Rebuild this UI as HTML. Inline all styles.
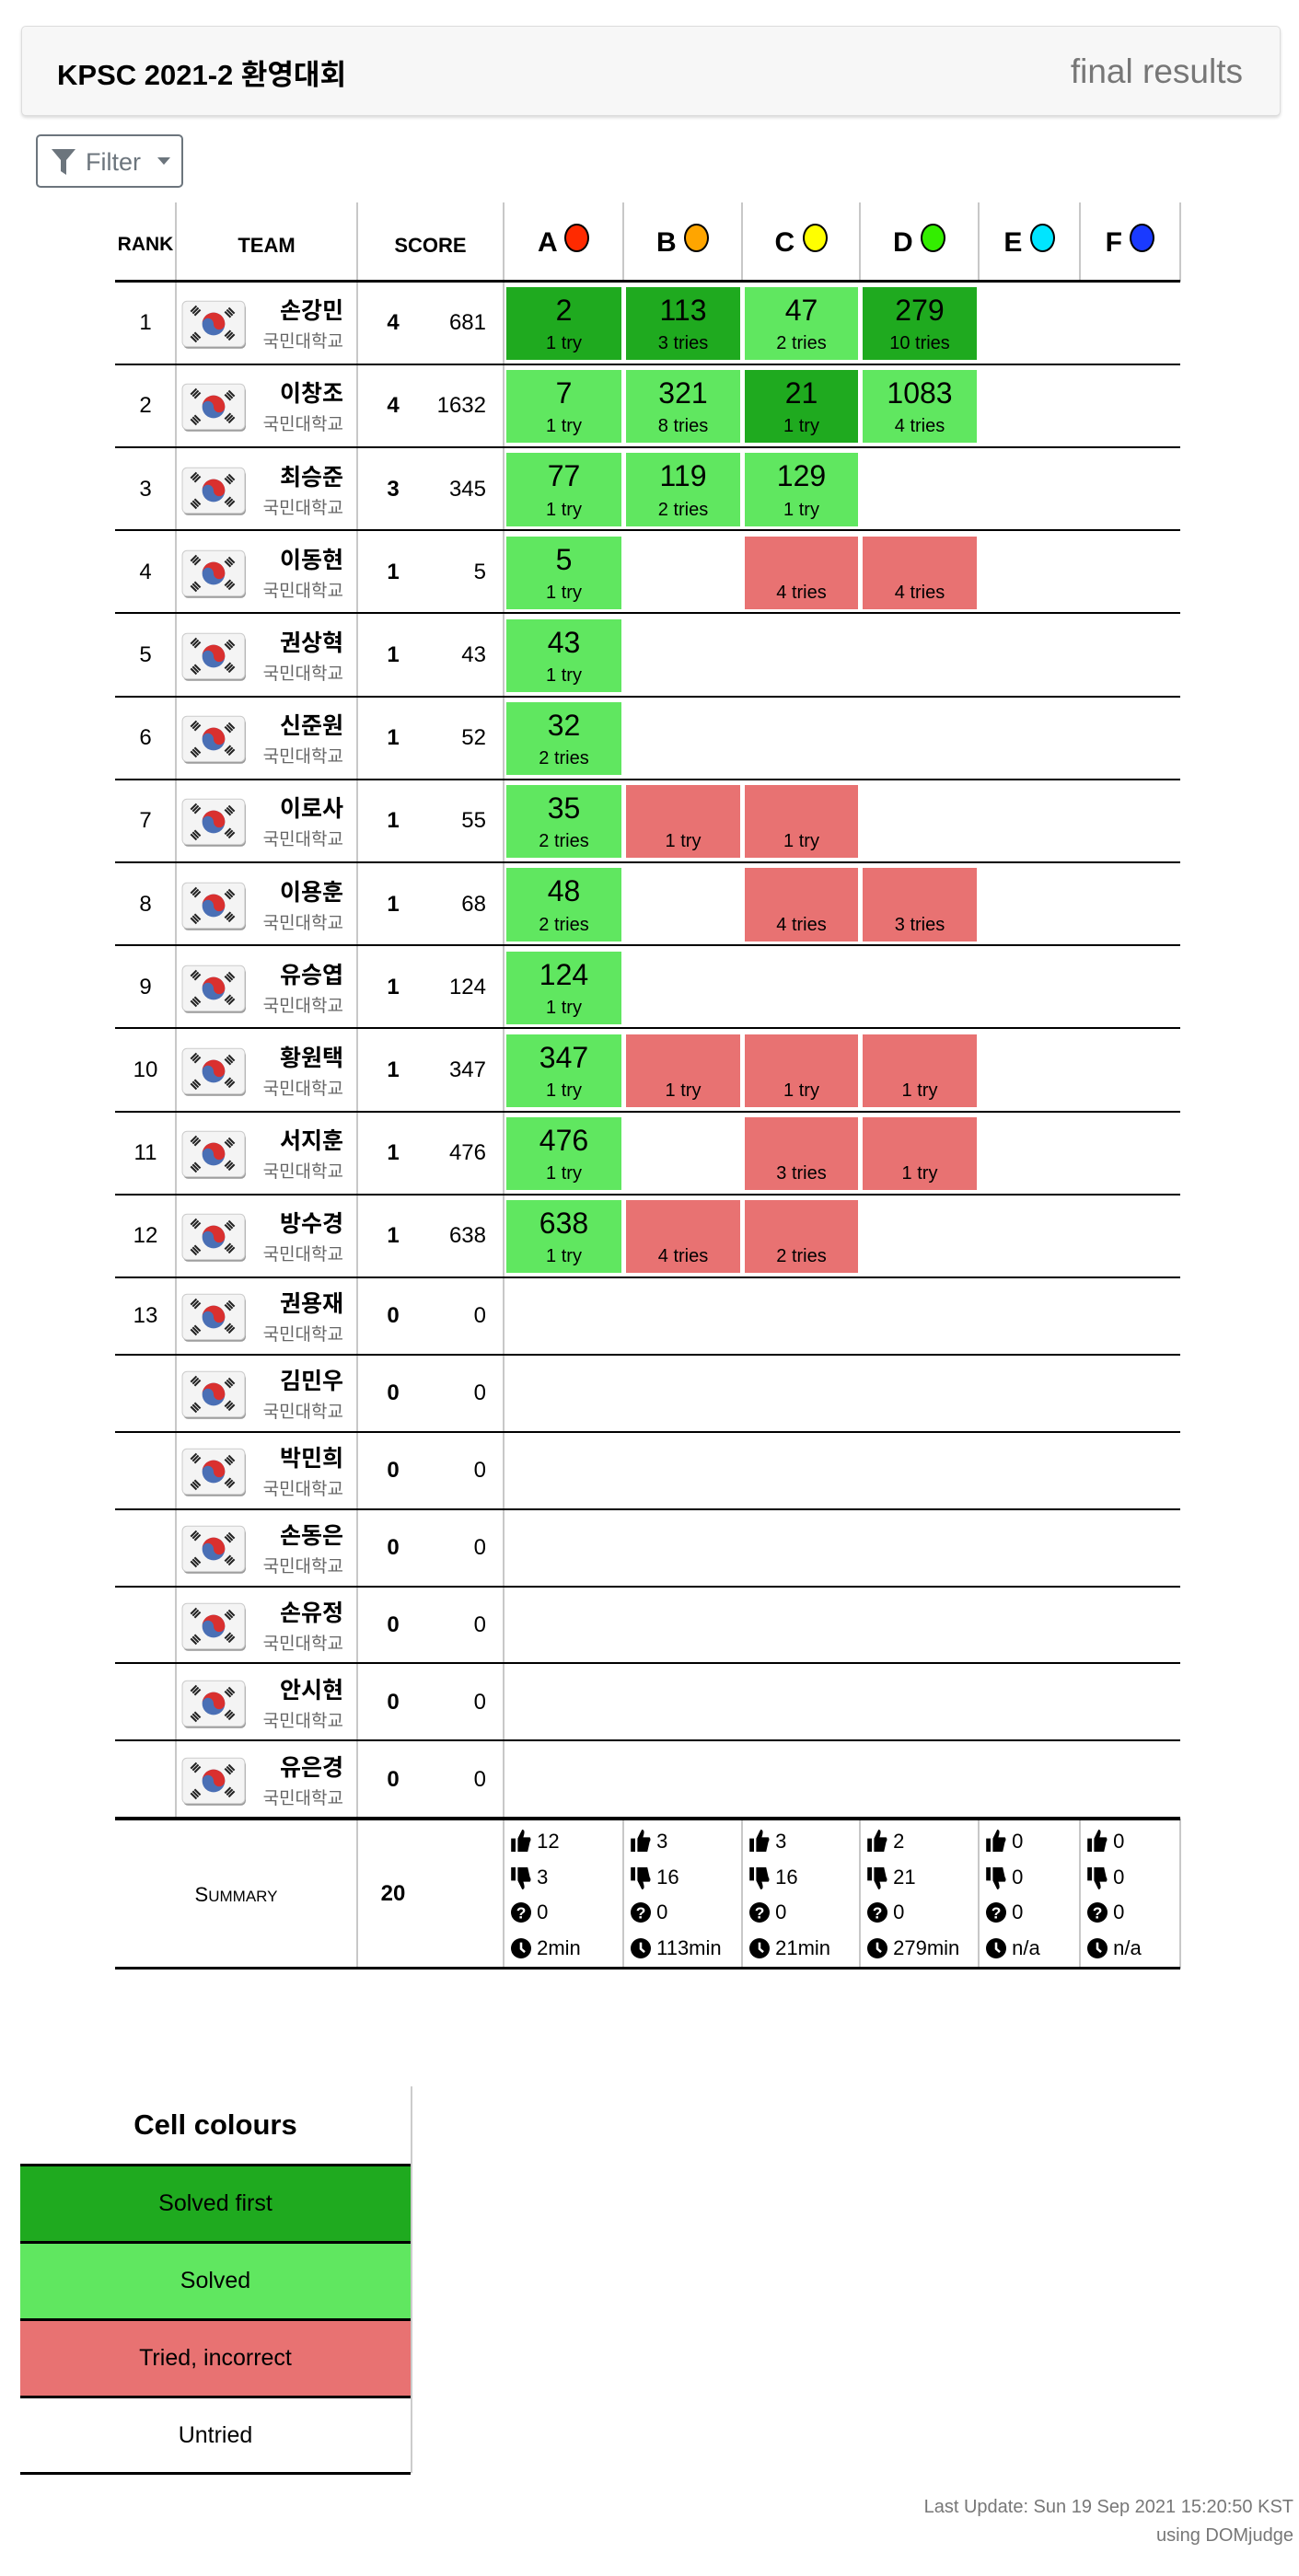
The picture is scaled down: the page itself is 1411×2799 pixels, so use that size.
<!DOCTYPE html>
<html><head><meta charset="utf-8">
<style>
body{margin:0;width:1411px;height:2799px;position:relative;background:#fff;font-family:"Liberation Sans","Noto Sans CJK KR",sans-serif;color:#000;overflow:hidden}
.abs{position:absolute}
.hdr{left:23px;top:28px;width:1366px;height:96px;background:#f7f7f7;border:1px solid #ddd;border-radius:5px;box-shadow:0 2px 3px rgba(0,0,0,.15)}
.cell{position:absolute;text-align:center}
.cell .t{font-size:32px;line-height:34px;margin-top:8px}
.cell .n{font-size:20px;position:absolute;left:0;right:0;bottom:6px}
.hl{position:absolute;height:3px;background:#000}
.vl{position:absolute;width:2px;background:#c8c8c8}
</style></head><body>
<div class="abs hdr">
  <div class="abs" style="left:38px;top:27px;font-size:31px;font-weight:bold">KPSC 2021-2 환영대회</div>
  <div class="abs" style="right:40px;top:28px;font-size:37px;color:#777">final results</div>
</div>
<div class="abs" style="left:39px;top:146px;width:160px;height:58px;border:2px solid #6c757d;border-radius:5px;box-sizing:border-box;color:#6c757d;font-size:27px">
  <svg class="abs" style="left:15px;top:14px" width="26" height="28" viewBox="0 0 26 28"><path d="M0 0H26L16 12V28L10 24V12Z" fill="#6c757d"/></svg>
  <span class="abs" style="left:52px;top:13px">Filter</span>
  <svg class="abs" style="left:130px;top:23px" width="14" height="8"><path d="M0 0H14L7 8Z" fill="#6c757d"/></svg>
</div>
<div id="board"></div>
<div id="legend"></div>
<div class="abs" style="right:6px;top:2709px;text-align:right;font-size:20px;color:#777;line-height:31px">Last Update: Sun 19 Sep 2021 15:20:50 KST<br>using DOMjudge</div>
<script>
const problems=['A','B','C','D','E','F'];
const probColors=['#ff2a00','#ffa500','#ffff00','#33ee00','#00e5ff','#1a3aff'];
const ranks=['1','2','3','4','5','6','7','8','9','10','11','12','13','','','','','',''];
const teams=['손강민','이창조','최승준','이동현','권상혁','신준원','이로사','이용훈','유승엽','황원택','서지훈','방수경','권용재','김민우','박민희','손동은','손유정','안시현','유은경'];
const solved=[4,4,3,1,1,1,1,1,1,1,1,1,0,0,0,0,0,0,0];
const penalty=[681,1632,345,5,43,52,55,68,124,347,476,638,0,0,0,0,0,0,0];
// per team: [status,time,tries] status: F first, S solved, T tried, '' none
const results=[
[['F',2,1],['F',113,3],['S',47,2],['F',279,10]],
[['S',7,1],['S',321,8],['F',21,1],['S',1083,4]],
[['S',77,1],['S',119,2],['S',129,1]],
[['S',5,1],[''],['T',0,4],['T',0,4]],
[['S',43,1]],
[['S',32,2]],
[['S',35,2],['T',0,1],['T',0,1]],
[['S',48,2],[''],['T',0,4],['T',0,3]],
[['S',124,1]],
[['S',347,1],['T',0,1],['T',0,1],['T',0,1]],
[['S',476,1],[''],['T',0,3],['T',0,1]],
[['S',638,1],['T',0,4],['T',0,2]],
[],[],[],[],[],[],[]];
const sumCorrect=['12','3','3','2','0','0'];
const sumWrong=['3','16','16','21','0','0'];
const sumPending=['0','0','0','0','0','0'];
const sumFirst=['2min','113min','21min','279min','n/a','n/a'];
const totalSolved='20';

const board=document.getElementById('board');
function el(tag,css,html,parent){const e=document.createElement(tag);e.style.cssText=css;if(html!==undefined)e.innerHTML=html;(parent||board).appendChild(e);return e;}
const colX=[125,191,388,547,677,806,934,1063,1173,1282];
const TW=colX[9]-colX[0];
const headTop=220, headBot=306;
const rowTops=[];let y=306;
for(let i=0;i<19;i++){rowTops.push(y);y+=(i<12?90.2:83.9);}
const sumTop=1976,sumBot=2139;
const colorMap={F:'#1faa1f',S:'#60e760',T:'#e87272'};
[[191,sumTop],[388,sumBot],[547,sumBot]].forEach(a=>{let v=el('div','left:'+(a[0]-1)+'px;top:'+headTop+'px;height:'+(a[1]-headTop)+'px','');v.className='vl';

});
colX.slice(4).forEach(x=>{[[headTop,headBot],[sumTop,sumBot]].forEach(r=>{let v=el('div','left:'+(x-1)+'px;top:'+r[0]+'px;height:'+(r[1]-r[0])+'px','');v.className='vl';

});});
const hs=[['RANK',125,191,21],['TEAM',191,388,22],['SCORE',388,547,22]];
hs.forEach(h=>{let e=el('div','position:absolute;left:'+h[1]+'px;width:'+(h[2]-h[1])+'px;top:254px;text-align:center;font-weight:bold;font-size:'+h[3]+'px',h[0]);

});
problems.forEach((p,i)=>{const l=colX[i+3],r=colX[i+4];
let e=el('div','position:absolute;left:'+l+'px;width:'+(r-l)+'px;top:243px;text-align:center;font-weight:bold;font-size:30px;white-space:nowrap',p+' <span style="display:inline-block;width:23px;height:27px;border-radius:50%;border:2px solid #000;background:'+probColors[i]+';vertical-align:-1px"></span>');

});
let hl=el('div','left:125px;top:304px;width:'+TW+'px','');hl.className='hl';


function flag(){return '<svg style="position:absolute;left:0;top:0" width="72" height="54" viewBox="0 0 70 52"><rect x="2" y="3" width="66" height="48" rx="5" fill="#999"/><rect x="1" y="1" width="66" height="48" rx="5" fill="#f4f4f4" stroke="#ccc"/><circle cx="34" cy="25" r="12" fill="#4a6fb5"/><path d="M22 25a12 12 0 0 1 24 0a6 6 0 0 1-12 0a6 6 0 0 0-12 0z" fill="#d9302f"/><g stroke="#222" stroke-width="2"><path d="M10 12l6-6M12 14l6-6M14 16l6-6M48 10l6 6M50 8l6 6M46 12l6 6M10 38l6 6M12 36l6 6M14 34l6 6M48 40l6-6M50 42l6-6M46 38l6-6"/></g></svg>';}
for(let i=0;i<19;i++){
  const t=rowTops[i],h=(i<12?90.2:83.9),mid=t+h/2;
  let r=el('div','position:absolute;left:125px;width:66px;top:'+(mid-14)+'px;text-align:center;font-size:24px',ranks[i]);
  
  
  let f=el('div','position:absolute;left:197px;top:'+(mid-25)+'px;width:72px;height:54px',flag());
  
  
  let tn=el('div','position:absolute;right:'+(1411-373)+'px;top:'+(mid-33)+'px;font-size:25px;font-weight:bold;white-space:nowrap',teams[i]);
  
  
  let af=el('div','position:absolute;right:'+(1411-373)+'px;top:'+(mid+5)+'px;font-size:19px;color:#666;white-space:nowrap','국민대학교');
  
  
  let sc=el('div','position:absolute;left:407px;width:40px;top:'+(mid-14)+'px;text-align:center;font-size:24px;font-weight:bold',solved[i]);
  
  
  let pn=el('div','position:absolute;right:'+(1411-528)+'px;top:'+(mid-14)+'px;font-size:24px',penalty[i]);
  
  
  (results[i]||[]).forEach((res,j)=>{
    if(!res[0])return;
    const l=colX[j+3]+3,rr=colX[j+4]-2;
    let c=el('div','left:'+l+'px;top:'+(t+6)+'px;width:'+(rr-l)+'px;height:'+(h-11)+'px;background:'+colorMap[res[0]],
      '<div class="t">'+(res[0]==='T'?'&nbsp;':res[1])+'</div><div class="n">'+res[2]+(res[2]===1?' try':' tries')+'</div>');
    c.className='cell';
    
    
  });
  let line=el('div','left:125px;top:'+(t+h-1.5)+'px;width:'+TW+'px;height:2px','');line.className='hl';
  
  
}
let sl=el('div','left:125px;top:'+(sumTop-2)+'px;width:'+TW+'px;height:4px','');sl.className='hl';


let sl2=el('div','left:125px;top:'+(sumBot-2)+'px;width:'+TW+'px','');sl2.className='hl';


let st=el('div','position:absolute;left:125px;width:263px;top:2046px;text-align:center;font-size:22px','S<span style="font-size:17px">UMMARY</span>');


let stt=el('div','position:absolute;left:407px;width:40px;top:2044px;text-align:center;font-size:24px;font-weight:bold',totalSolved);


const up='<svg width="22" height="24" viewBox="0 0 18 20" style="vertical-align:-4px"><rect x="0" y="8" width="4" height="12" fill="#000"/><path d="M6 8L10 0C13 0 12 4 11 7H17C18 8 18 10 17 11L15 20H6Z" fill="#000"/></svg>';
const dn='<svg width="22" height="24" viewBox="0 0 18 20" style="vertical-align:-6px"><rect x="0" y="0" width="4" height="12" fill="#000"/><path d="M6 12L10 20C13 20 12 16 11 13H17C18 12 18 10 17 9L15 0H6Z" fill="#000"/></svg>';
const q='<svg width="22" height="22" viewBox="0 0 19 19" style="vertical-align:-4px"><circle cx="9.5" cy="9.5" r="9.5" fill="#000"/><text x="9.5" y="15" text-anchor="middle" font-size="15" font-weight="bold" fill="#fff" font-family="Liberation Sans">?</text></svg>';
const clk='<svg width="22" height="22" viewBox="0 0 19 19" style="vertical-align:-4px"><circle cx="9.5" cy="9.5" r="9.5" fill="#000"/><path d="M9.5 4V10L13 13" stroke="#fff" stroke-width="2.2" fill="none"/></svg>';
problems.forEach((p,j)=>{
  const l=colX[j+3]+8;
  [[up,sumCorrect[j]],[dn,sumWrong[j]],[q,sumPending[j]],[clk,sumFirst[j]]].forEach((it,k)=>{
    let s=el('div','position:absolute;left:'+l+'px;top:'+(1988+k*38.5)+'px;font-size:22px;white-space:nowrap',it[0]+' '+it[1]);
    
    
  });
});
const lg=document.getElementById('legend');
const legItems=[['Solved first','#1faa1f'],['Solved','#60e760'],['Tried, incorrect','#e87272'],['Untried','#fff']];
const legTop=2351, legRow=84;
let lv=el('div','position:absolute;left:446px;top:2267px;width:2px;height:'+(legTop+4*legRow-2267)+'px;background:#ccc','',lg);


let lt=el('div','position:absolute;left:22px;width:424px;top:2291px;text-align:center;font-size:31px;font-weight:bold','Cell colours',lg);


legItems.forEach((it,i)=>{
  const top=legTop+i*legRow;
  let b=el('div','position:absolute;left:22px;width:424px;top:'+top+'px;height:'+legRow+'px;background:'+it[1]+';border-top:3px solid #000;box-sizing:border-box;text-align:center;font-size:25px;line-height:80px',it[0],lg);
  
  
});
let lb=el('div','position:absolute;left:22px;width:424px;top:'+(legTop+4*legRow-1)+'px;height:3px;background:#000','',lg);


</script>
</body></html>
